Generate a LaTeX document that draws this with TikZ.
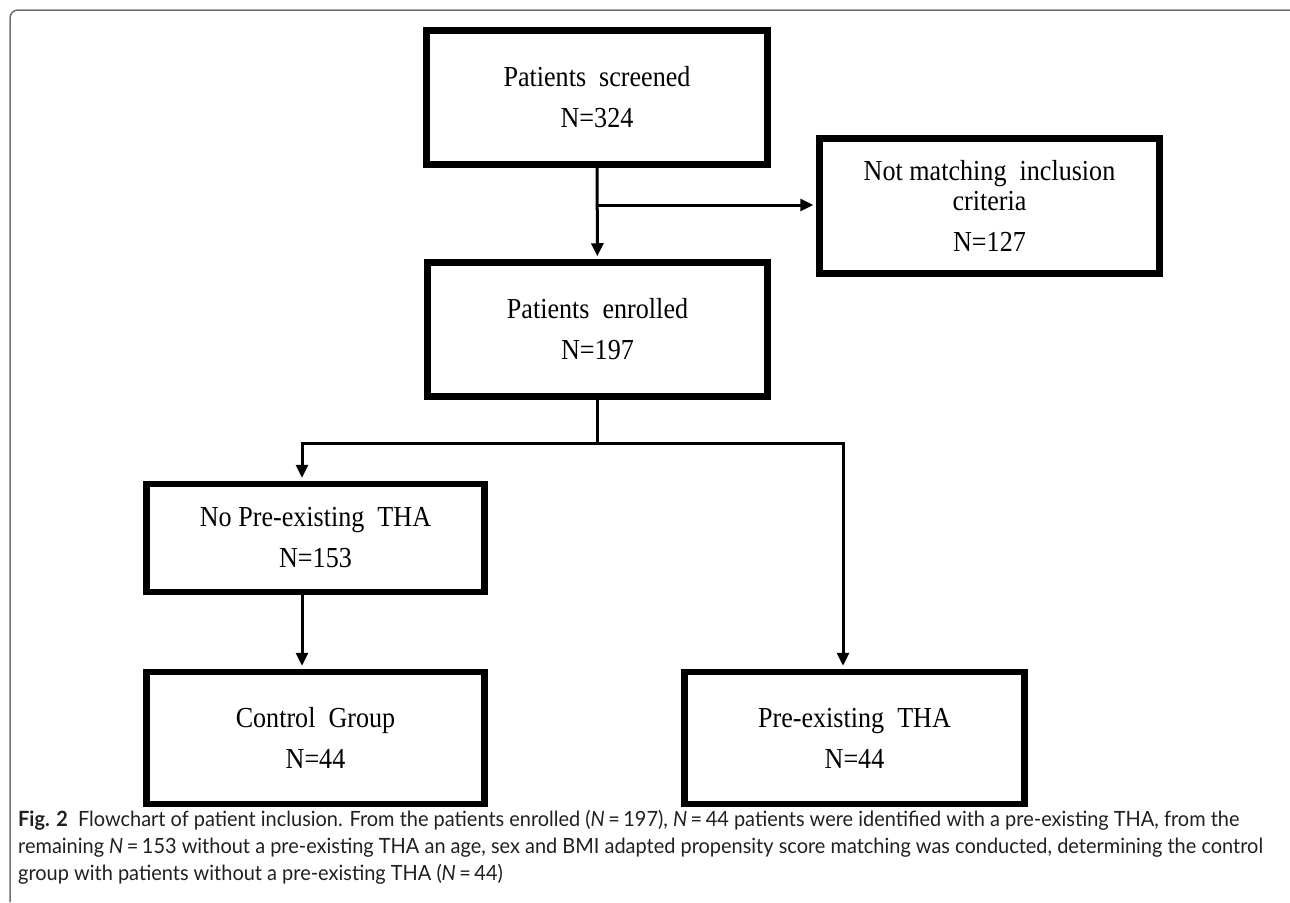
\documentclass[tikz,border=0pt]{standalone}
\usepackage{fontspec}
\setmainfont[FakeStretch=0.9]{Liberation Serif}
\newfontfamily\capfont[FakeStretch=0.95]{Lato}
\usepackage{tikz}
\usetikzlibrary{arrows.meta}
\usetikzlibrary{calc}

\definecolor{framegray}{RGB}{110,110,110}
\definecolor{captext}{RGB}{35,31,32}

\tikzset{
  flowbox/.style={draw=black,line width=6.5pt,fill=white,align=center,
    inner sep=0pt,font=\fontsize{29}{41}\selectfont},
  link/.style={line width=3pt,draw=black},
  arr/.style={link,-{Triangle[length=13pt,width=12pt]},shorten >=3pt}
}

\begin{document}
\begin{tikzpicture}[x=1pt,y=-1pt]
            \useasboundingbox (0,0) rectangle (1290,902);

            \draw[framegray,line width=1.5pt,rounded corners=8pt] (10,902) -- (10,10) -- (1290,10);

            \node[flowbox,minimum width=341pt,minimum height=134pt] (screen) at (597,97.5)
                {Patients~ screened\\N=324};
            \node[flowbox,minimum width=340pt,minimum height=135pt] (excl) at (989.5,206)
                {Not matching~ inclusion\\[-11pt]criteria\\N=127};
            \node[flowbox,minimum width=340pt,minimum height=134pt] (enrol) at (597.5,329.5)
                {Patients~ enrolled\\N=197};
            \node[flowbox,minimum width=338pt,minimum height=108pt] (nothA) at (315.5,538)
                {No Pre-existing~ THA\\N=153};
            \node[flowbox,minimum width=338pt,minimum height=132pt] (ctrl) at (315.5,738)
                {Control~ Group\\N=44};
            \node[flowbox,minimum width=340pt,minimum height=132pt] (tha) at (854.5,738)
                {Pre-existing~ THA\\N=44};

            \coordinate (sp1) at (597.5,205);
            \coordinate (sp2) at (597.5,443);
            \coordinate (brL) at (302,443);
            \coordinate (brR) at (843,443);

            \draw[arr] (screen) -- (enrol);
            \draw[arr] (sp1) -- (sp1 -| excl.west);

            \draw[link] (enrol.south) -- (sp2);
            \draw[link,line cap=rect] (brL) -- (brR);
            \draw[arr] (brL) -- (brL |- nothA.north);
            \draw[arr] (brR) -- (brR |- tha.north);
            \draw[arr] (nothA.south -| brL) -- (ctrl.north -| brL);

            \node[anchor=base west,align=left,inner sep=0pt,text=captext,
                  font=\capfont\fontsize{21}{27}\selectfont] (cap) at (18,880)
                {\textbf{Fig. 2}\ \ Flowchart of patient inclusion. From the patients enrolled (\textit{N}\,=\,197), \textit{N}\,=\,44 patients were identified with a pre-existing THA, from the\\
                 remaining \textit{N}\,=\,153 without a pre-existing THA an age, sex and BMI adapted propensity score matching was conducted, determining the control\\
                 group with patients without a pre-existing THA (\textit{N}\,=\,44)};
        \end{tikzpicture}
\end{document}
